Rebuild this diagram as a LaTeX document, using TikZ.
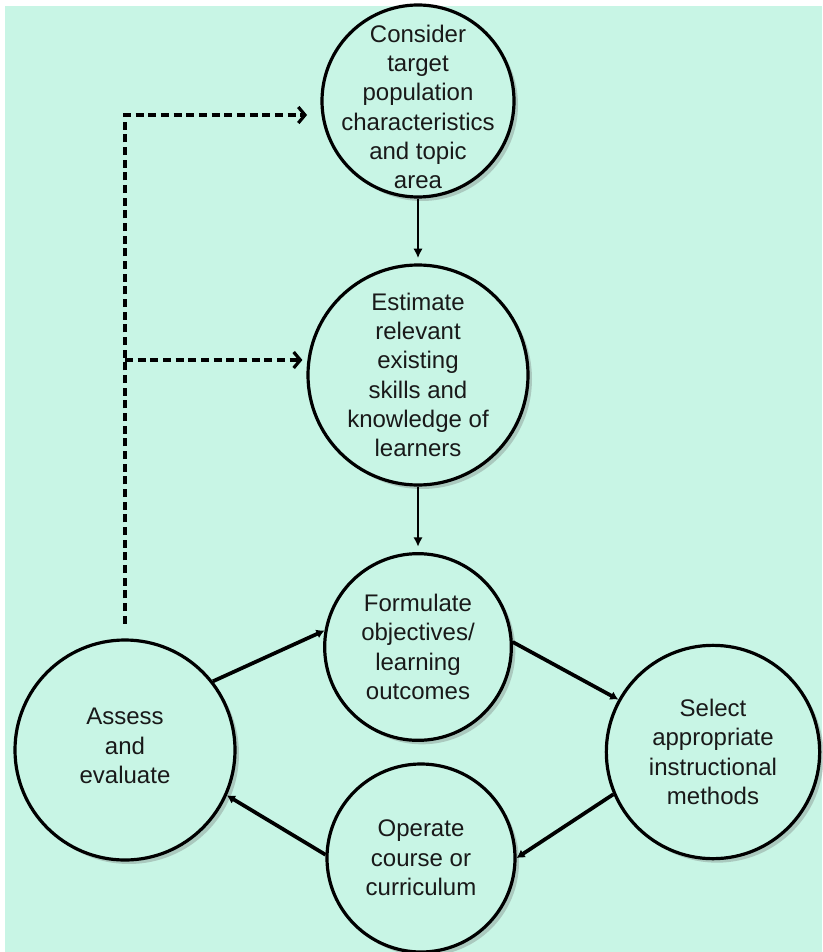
\documentclass[tikz,border=0pt]{standalone}
\usepackage{fontspec}
\setmainfont{Liberation Sans}
\usetikzlibrary{arrows.meta,shadows}
\definecolor{paper}{RGB}{200,245,229}

\begin{document}
\begin{tikzpicture}[x=0.75pt,y=-0.75pt,
  stage/.style={circle,draw=black,line width=2.4pt,fill=paper,inner sep=0pt,minimum size=#1,
    drop shadow={shadow xshift=3pt,shadow yshift=-3pt,opacity=.3,fill=black!60}},
  txt/.style={align=center,font=\fontsize{18}{22}\selectfont,text=black!90},
  flow/.style={line width=2pt,-{Latex[length=7pt,width=7pt]}},
  cycle/.style={line width=2.8pt,-{Latex[length=6pt,width=7pt]}},
  feedback/.style={line width=2.4pt,dash pattern=on 6pt off 3.5pt,-{Straight Barb[length=5pt,width=12pt,line width=2.4pt]}}]
\fill[white] (0,0) rectangle (822,952);
\fill[paper] (5,6) rectangle (822,952);
\useasboundingbox (0,0) rectangle (822,952);

\node[stage=144,label={[txt,yshift=-4.5pt]center:Consider\\target\\population\\characteristics\\and topic\\area}] (consider) at (418,101) {};
\node[stage=165,label={[txt]center:Estimate\\relevant\\existing\\skills and\\knowledge of\\learners}] (estimate) at (418,375) {};
\node[stage=140,label={[txt]center:Formulate\\objectives/\\learning\\outcomes}] (formulate) at (418,647) {};
\node[stage=165,label={[txt,yshift=3pt]center:Assess\\and\\evaluate}] (assess) at (125,750) {};
\node[stage=160,label={[txt]center:Select\\appropriate\\instructional\\methods}] (select) at (713,752) {};
\node[stage=141,label={[txt]center:Operate\\course or\\curriculum}] (operate) at (421,858) {};

\draw[flow,shorten >=4pt] (consider) -- (estimate);
\draw[flow,shorten >=4pt] (estimate) -- (formulate);

\draw[cycle] (assess.38) -- (formulate.170);
\draw[cycle] (formulate.3) -- (select.151);
\draw[cycle] (select.203) -- (operate.0);
\draw[cycle] (operate.178) -- (assess.336);

\coordinate (fbtop) at (125,115);
\coordinate (fbmid) at (125,360);
\draw[feedback,shorten <=11pt,shorten >=10pt] (assess.north) -- (fbtop) -- (fbtop -| consider.west);
\draw[feedback,shorten >=3pt] (fbmid) -- (fbmid -| estimate.west);
\end{tikzpicture}
\end{document}
